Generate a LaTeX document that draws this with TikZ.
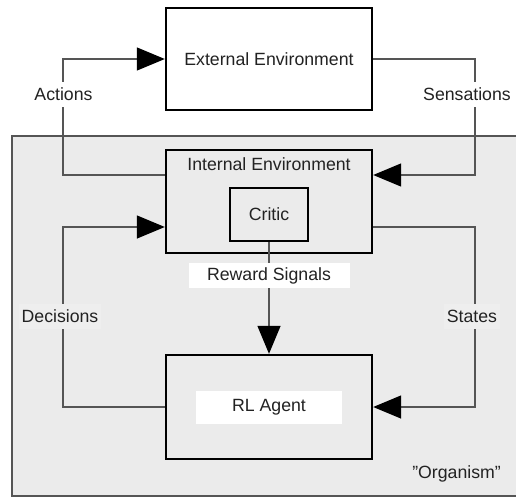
\documentclass[tikz,border=0pt]{standalone}
\usepackage{fontspec}
\setmainfont{Liberation Sans}
\usetikzlibrary{arrows.meta}
\definecolor{bg}{HTML}{EBEBEB}
\definecolor{lbl}{HTML}{EEEEEE}
\definecolor{ln}{HTML}{555555}
\definecolor{txt}{HTML}{222222}
\tikzset{
  box/.style={draw=black, line width=2.4pt, rectangle, inner sep=0pt},
  conn/.style={draw=ln, line width=1.4pt},
  arr/.style={conn, -{Triangle[length=28pt,width=23pt,color=black]}},
  tag/.style={inner sep=0pt, text=txt, font=\fontsize{17.7}{21}\selectfont},
  wlab/.style={tag, fill=white, inner xsep=3pt, minimum height=25pt},
  glab/.style={tag, fill=lbl, inner xsep=3pt, minimum height=25pt}
}
\begin{document}
\begin{tikzpicture}[x=1pt,y=-1pt]
\useasboundingbox (0,0) rectangle (516,498);
% organism region
\draw[fill=bg, draw=ln, line width=1.4pt] (12,136) rectangle (530,496);
% boxes
\node[box, fill=white, minimum width=206pt, minimum height=102pt] (ext) at (269,59) {};
\node[tag] (extt) at (269,59) {External Environment};
\node[box, fill=bg, minimum width=206pt, minimum height=103pt] (int) at (269,201.5) {};
\node[tag] (intt) at (269,164) {Internal Environment};
\node[box, fill=bg, minimum width=78pt, minimum height=53pt] (critic) at (269,214.5) {};
\node[tag] (critict) at (269,214.5) {Critic};
\node[box, fill=bg, minimum width=206pt, minimum height=104pt] (agent) at (269,407) {};
\node[fill=white, minimum width=146pt, minimum height=33pt, inner sep=0pt] (agentbg) at (269,407.5) {};
\node[tag] (agentt) at (269,407.5) {RL Agent};
% coordinates
\coordinate (aL) at (63,175);
\coordinate (sR) at (475,175);
\coordinate (dL) at (63,227);
\coordinate (stR) at (475,227);
% connectors
\draw[arr] (int.west |- aL) -- (aL) |- (ext.west);
\draw[arr] (ext.east) -| (sR) -- (int.east |- sR);
\draw[arr] (agent.west) -| (dL) -- (int.west |- dL);
\draw[arr] (int.east |- stR) -- (stR) |- (agent.east);
\draw[arr] (critic.south) -- (agent.north);
% labels
\node[wlab] (actions) at (63.5,94) {Actions};
\node[wlab] (sens) at (467,94) {Sensations};
\node[glab] (dec) at (60,316) {Decisions};
\node[glab] (states) at (472,316) {States};
\node[tag, fill=white, minimum width=161pt, minimum height=25pt] (reward) at (269,275.5) {Reward Signals};
\node[tag, anchor=east] (org) at (501,474) {\symbol{34}Organism\symbol{34}};
\end{tikzpicture}
\end{document}
